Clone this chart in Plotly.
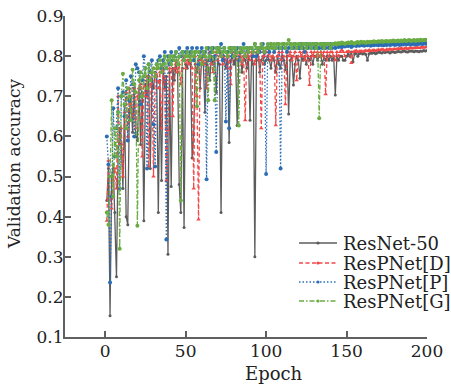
import plotly.graph_objects as go

epochs = list(range(1, 201))

resnet50 = [
    0.44, 0.52, 0.153, 0.50, 0.53, 0.41, 0.25, 0.56, 0.62, 0.58,
    0.47, 0.68, 0.40, 0.38, 0.66, 0.70, 0.61, 0.72, 0.60, 0.59,
    0.72, 0.58, 0.71, 0.39, 0.73, 0.70, 0.75, 0.52, 0.74, 0.72,
    0.76, 0.75, 0.41, 0.74, 0.49, 0.77, 0.72, 0.75, 0.306, 0.76,
    0.475, 0.77, 0.74, 0.78, 0.76, 0.48, 0.41, 0.77, 0.373, 0.78,
    0.77, 0.79, 0.78, 0.546, 0.604, 0.78, 0.76, 0.79, 0.72, 0.80,
    0.78, 0.66, 0.79, 0.77, 0.74, 0.80, 0.78, 0.80, 0.71, 0.79,
    0.78, 0.41, 0.80, 0.79, 0.77, 0.80, 0.585, 0.79, 0.80, 0.78,
    0.80, 0.627, 0.79, 0.81, 0.76, 0.80, 0.79, 0.77, 0.80, 0.64,
    0.80, 0.78, 0.30, 0.79, 0.81, 0.76, 0.79, 0.80, 0.78, 0.79,
    0.80, 0.79, 0.77, 0.80, 0.79, 0.76, 0.80, 0.78, 0.77, 0.80,
    0.79, 0.766, 0.80, 0.656, 0.79, 0.80, 0.728, 0.78, 0.80, 0.79,
    0.745, 0.80, 0.79, 0.80, 0.78, 0.80, 0.79, 0.80, 0.78, 0.80,
    0.80, 0.79, 0.80, 0.80, 0.78, 0.80, 0.79, 0.80, 0.79, 0.80,
    0.79, 0.80, 0.703, 0.80, 0.79, 0.80, 0.80, 0.79, 0.79, 0.80,
    0.805, 0.80, 0.81, 0.786, 0.805, 0.808, 0.80, 0.806, 0.808, 0.805,
    0.807, 0.804, 0.79, 0.806, 0.808, 0.807, 0.809, 0.806, 0.808, 0.81,
    0.809, 0.808, 0.81, 0.809, 0.811, 0.81, 0.808, 0.81, 0.811, 0.809,
    0.81, 0.812, 0.811, 0.81, 0.812, 0.813, 0.811, 0.81, 0.812, 0.813,
    0.812, 0.811, 0.813, 0.812, 0.811, 0.813, 0.812, 0.814, 0.813, 0.814,
]

respnet_d = [
    0.39, 0.54, 0.45, 0.42, 0.49, 0.52, 0.47, 0.70, 0.58, 0.62,
    0.50, 0.66, 0.71, 0.60, 0.72, 0.68, 0.65, 0.73, 0.62, 0.70,
    0.72, 0.73, 0.55, 0.74, 0.70, 0.75, 0.525, 0.73, 0.76, 0.50,
    0.75, 0.77, 0.72, 0.76, 0.62, 0.78, 0.74, 0.49, 0.615, 0.77,
    0.78, 0.65, 0.77, 0.79, 0.76, 0.78, 0.73, 0.79, 0.80, 0.77,
    0.79, 0.78, 0.80, 0.77, 0.47, 0.80, 0.70, 0.393, 0.79, 0.80,
    0.78, 0.80, 0.72, 0.79, 0.81, 0.78, 0.76, 0.80, 0.81, 0.79,
    0.80, 0.81, 0.78, 0.80, 0.79, 0.77, 0.80, 0.73, 0.81, 0.80,
    0.81, 0.79, 0.80, 0.81, 0.78, 0.80, 0.64, 0.81, 0.80, 0.79,
    0.81, 0.80, 0.78, 0.81, 0.80, 0.79, 0.62, 0.81, 0.80, 0.81,
    0.80, 0.81, 0.79, 0.80, 0.81, 0.628, 0.80, 0.81, 0.79, 0.81,
    0.80, 0.68, 0.81, 0.80, 0.81, 0.79, 0.80, 0.81, 0.74, 0.80,
    0.81, 0.80, 0.81, 0.79, 0.81, 0.80, 0.728, 0.81, 0.80, 0.81,
    0.80, 0.81, 0.80, 0.81, 0.80, 0.81, 0.705, 0.81, 0.80, 0.81,
    0.81, 0.80, 0.79, 0.81, 0.80, 0.81, 0.815, 0.81, 0.80, 0.81,
    0.812, 0.81, 0.783, 0.81, 0.812, 0.814, 0.81, 0.812, 0.813, 0.811,
    0.813, 0.814, 0.812, 0.815, 0.813, 0.814, 0.815, 0.813, 0.815, 0.816,
    0.815, 0.817, 0.816, 0.814, 0.817, 0.816, 0.818, 0.816, 0.817, 0.818,
    0.817, 0.819, 0.818, 0.82, 0.818, 0.819, 0.82, 0.818, 0.82, 0.821,
    0.819, 0.821, 0.82, 0.822, 0.82, 0.821, 0.823, 0.821, 0.822, 0.823,
]

respnet_p = [
    0.60, 0.53, 0.236, 0.45, 0.67, 0.55, 0.62, 0.72, 0.47, 0.70,
    0.71, 0.65, 0.74, 0.59, 0.69, 0.75, 0.73, 0.60, 0.78, 0.77,
    0.76, 0.68, 0.74, 0.80, 0.77, 0.52, 0.78, 0.76, 0.79, 0.63,
    0.525, 0.78, 0.79, 0.80, 0.77, 0.79, 0.81, 0.343, 0.80, 0.78,
    0.81, 0.79, 0.80, 0.81, 0.78, 0.82, 0.80, 0.81, 0.79, 0.81,
    0.82, 0.80, 0.81, 0.82, 0.79, 0.81, 0.82, 0.78, 0.81, 0.82,
    0.80, 0.81, 0.493, 0.82, 0.79, 0.81, 0.82, 0.80, 0.561, 0.82,
    0.81, 0.83, 0.79, 0.82, 0.637, 0.81, 0.62, 0.82, 0.80, 0.82,
    0.81, 0.82, 0.79, 0.82, 0.81, 0.83, 0.80, 0.82, 0.81, 0.82,
    0.82, 0.80, 0.83, 0.80, 0.82, 0.81, 0.82, 0.83, 0.81, 0.506,
    0.82, 0.81, 0.83, 0.82, 0.81, 0.82, 0.83, 0.82, 0.52, 0.82,
    0.83, 0.82, 0.81, 0.82, 0.83, 0.82, 0.82, 0.83, 0.82, 0.82,
    0.82, 0.83, 0.82, 0.81, 0.83, 0.82, 0.83, 0.82, 0.83, 0.82,
    0.83, 0.82, 0.82, 0.83, 0.82, 0.83, 0.82, 0.83, 0.82, 0.83,
    0.82, 0.83, 0.82, 0.83, 0.823, 0.826, 0.822, 0.827, 0.824, 0.826,
    0.825, 0.827, 0.823, 0.826, 0.828, 0.825, 0.827, 0.826, 0.828, 0.827,
    0.826, 0.828, 0.827, 0.829, 0.826, 0.828, 0.827, 0.829, 0.828, 0.827,
    0.829, 0.828, 0.827, 0.829, 0.828, 0.83, 0.828, 0.829, 0.83, 0.828,
    0.829, 0.83, 0.828, 0.83, 0.829, 0.831, 0.829, 0.83, 0.831, 0.829,
    0.83, 0.831, 0.829, 0.831, 0.83, 0.832, 0.83, 0.831, 0.832, 0.831,
]

respnet_g = [
    0.41, 0.38, 0.50, 0.69, 0.45, 0.62, 0.55, 0.66, 0.32, 0.70,
    0.756, 0.68, 0.62, 0.72, 0.70, 0.64, 0.766, 0.73, 0.71, 0.377,
    0.74, 0.76, 0.70, 0.75, 0.77, 0.72, 0.78, 0.74, 0.76, 0.77,
    0.75, 0.78, 0.77, 0.79, 0.76, 0.78, 0.80, 0.77, 0.79, 0.80,
    0.78, 0.80, 0.79, 0.81, 0.78, 0.80, 0.44, 0.81, 0.79, 0.80,
    0.81, 0.80, 0.79, 0.81, 0.80, 0.81, 0.675, 0.81, 0.80, 0.78,
    0.81, 0.80, 0.82, 0.69, 0.80, 0.82, 0.81, 0.69, 0.82, 0.81,
    0.82, 0.80, 0.81, 0.82, 0.81, 0.80, 0.82, 0.81, 0.82, 0.80,
    0.82, 0.81, 0.627, 0.82, 0.81, 0.82, 0.80, 0.82, 0.81, 0.82,
    0.82, 0.81, 0.83, 0.82, 0.81, 0.82, 0.83, 0.82, 0.81, 0.82,
    0.83, 0.82, 0.83, 0.82, 0.83, 0.82, 0.83, 0.83, 0.82, 0.83,
    0.83, 0.82, 0.83, 0.84, 0.83, 0.82, 0.83, 0.83, 0.82, 0.83,
    0.83, 0.82, 0.83, 0.83, 0.82, 0.83, 0.83, 0.82, 0.83, 0.83,
    0.82, 0.83, 0.645, 0.83, 0.83, 0.82, 0.83, 0.83, 0.83, 0.82,
    0.83, 0.83, 0.832, 0.829, 0.833, 0.831, 0.834, 0.832, 0.83, 0.833,
    0.834, 0.832, 0.835, 0.833, 0.831, 0.834, 0.835, 0.833, 0.836, 0.834,
    0.835, 0.833, 0.836, 0.834, 0.836, 0.835, 0.837, 0.835, 0.836, 0.837,
    0.836, 0.838, 0.836, 0.837, 0.838, 0.836, 0.838, 0.837, 0.839, 0.837,
    0.838, 0.839, 0.837, 0.839, 0.838, 0.84, 0.838, 0.839, 0.84, 0.838,
    0.839, 0.84, 0.838, 0.84, 0.839, 0.841, 0.839, 0.84, 0.841, 0.84,
]

x_ticks = [0, 50, 100, 150, 200]
y_ticks = [0.1, 0.2, 0.3, 0.4, 0.5, 0.6, 0.7, 0.8, 0.9]

series = [
    ("ResNet-50", resnet50, "#5c5c5c", "solid", "circle", 3),
    ("ResPNet[D]", respnet_d, "#f24848", "4px,2.5px", "triangle-up", 4),
    ("ResPNet[P]", respnet_p, "#2c6db5", "1.5px,2px", "circle", 4),
    ("ResPNet[G]", respnet_g, "#6aac42", "5px,2px,1.5px,2px", "circle", 4),
]

FONT = "DejaVu Serif"
W, H = 451, 386
ML, MR, MT, MB = 65, 24, 16, 49
PW, PH = W - ML - MR, H - MT - MB


def px(xp):
    return (xp - ML) / PW


def py(yp):
    return (H - MB - yp) / PH


fig = go.Figure()
for name, vals, color, dash, sym, msize in series:
    fig.add_trace(go.Scatter(
        x=epochs, y=vals, name=name, mode="lines+markers",
        line=dict(color=color, width=1.3, dash=dash),
        marker=dict(color=color, symbol=sym, size=msize),
        showlegend=False,
    ))

axis_common = dict(
    showline=True, linecolor="#606060", linewidth=2,
    ticks="inside", ticklen=6, tickwidth=1.5, tickcolor="#606060",
    showgrid=False, zeroline=False, mirror=False, automargin=False,
    tickfont=dict(family=FONT, size=17, color="#222"),
)
fig.update_xaxes(range=[-25, 200], tickvals=x_ticks, ticklabelstandoff=-2, **axis_common)
fig.update_yaxes(range=[0.1, 0.9], tickvals=y_ticks, tickformat=".1f",
                 ticklabelstandoff=-4, **axis_common)

annotations = [
    dict(text="Epoch", xref="paper", yref="paper", x=px(274), y=py(374),
         showarrow=False, font=dict(family=FONT, size=18, color="#222"),
         xanchor="center", yanchor="middle"),
    dict(text="Validation accuracy", xref="paper", yref="paper", x=px(14), y=py(164),
         showarrow=False, textangle=-90, font=dict(family=FONT, size=17, color="#222"),
         xanchor="center", yanchor="middle"),
]
shapes = []
row_y = [243, 263, 282, 301]
for (name, vals, color, dash, sym, msize), yy in zip(series, row_y):
    annotations.append(dict(text=name, xref="paper", yref="paper", x=px(341), y=py(yy),
                            showarrow=False, xanchor="left", yanchor="middle",
                            font=dict(family=FONT, size=18, color="#222")))
    shapes.append(dict(type="line", xref="paper", yref="paper",
                       x0=px(299), x1=px(337), y0=py(yy), y1=py(yy),
                       line=dict(color=color, width=1.3, dash=dash)))
    r = 1.6
    shapes.append(dict(type="circle", xref="paper", yref="paper",
                       x0=px(318 - r), x1=px(318 + r), y0=py(yy + r), y1=py(yy - r),
                       fillcolor=color, line=dict(color=color, width=0)))

fig.update_layout(
    width=W, height=H,
    margin=dict(l=ML, r=MR, t=MT, b=MB),
    paper_bgcolor="white", plot_bgcolor="white",
    font=dict(family=FONT, color="#222"),
    showlegend=False,
    annotations=annotations,
    shapes=shapes,
)

fig.write_html(
    "out.html",
    config={"displayModeBar": False},
    post_script="document.body.style.margin='0';document.body.style.overflow='hidden';",
)
